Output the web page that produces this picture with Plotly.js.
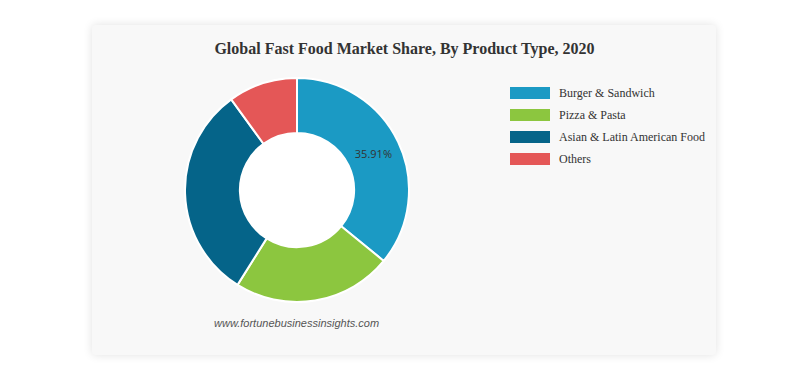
<!DOCTYPE html>
<html>
<head>
<meta charset="utf-8">
<script src="https://cdn.plot.ly/plotly-3.0.1.min.js"></script>
<style>
  html, body { margin: 0; padding: 0; background: #ffffff; width: 812px; height: 372px; overflow: hidden; }
  #card { position: absolute; left: 92px; top: 25px; width: 624px; height: 330px; background: #f8f8f8;
          border-radius: 4px; box-shadow: 0 0 10px rgba(0,0,0,0.12); }
  #chart { position: absolute; left: 0; top: 0; width: 812px; height: 372px; }
</style>
</head>
<body>
<div id="card"></div>
<div id="chart"></div>
<script>
const categories = ["Burger & Sandwich", "Pizza & Pasta", "Asian & Latin American Food", "Others"];
const shares = [35.91, 23.0, 31.1, 9.99];
const sliceLabels = ["35.91%", "", "", ""];
const colors = ["#1b9ac4", "#8cc63f", "#056489", "#e45757"];
const titleText = "Global Fast Food Market Share, By Product Type, 2020";
const sourceText = "www.fortunebusinessinsights.com";

const W = 812, H = 372;
const cx = 297, cy = 190, R = 112, holeFrac = 0.51;

const trace = {
  type: "pie",
  values: shares,
  labels: categories,
  text: sliceLabels,
  textinfo: "text",
  textposition: "inside",
  insidetextorientation: "horizontal",
  textfont: { family: "Open Sans, sans-serif", size: 11, color: "#333333" },
  marker: { colors: colors, line: { color: "#ffffff", width: 2 } },
  hole: holeFrac,
  sort: false,
  direction: "clockwise",
  rotation: 0,
  showlegend: false,
  domain: { x: [(cx - R) / W, (cx + R) / W], y: [(H - cy - R) / H, (H - cy + R) / H] },
  hoverinfo: "label+percent"
};

const shapes = [{
  type: "circle", xref: "paper", yref: "paper", layer: "below",
  x0: (cx - R * holeFrac) / W, x1: (cx + R * holeFrac) / W,
  y0: (H - cy - R * holeFrac) / H, y1: (H - cy + R * holeFrac) / H,
  fillcolor: "#ffffff", line: { width: 0 }
}];
const annotations = [];
const legX = 510, legY0 = 93, legStep = 22, swW = 40, swH = 12;
categories.forEach((c, i) => {
  const y = legY0 + i * legStep;
  shapes.push({
    type: "rect", xref: "paper", yref: "paper",
    x0: legX / W, x1: (legX + swW) / W,
    y0: (H - y - swH / 2) / H, y1: (H - y + swH / 2) / H,
    fillcolor: colors[i], line: { width: 0 }
  });
  annotations.push({
    xref: "paper", yref: "paper", x: (legX + swW + 7) / W, y: (H - y) / H,
    xanchor: "left", yanchor: "middle", showarrow: false, text: c,
    font: { family: "Liberation Serif, Times New Roman, serif", size: 12, color: "#333333" }
  });
});
annotations.push({
  xref: "paper", yref: "paper", x: 296.5 / W, y: (H - 323) / H,
  xanchor: "center", yanchor: "middle", showarrow: false, text: "<i>" + sourceText + "</i>",
  font: { family: "Liberation Sans, Arial, sans-serif", size: 11, color: "#555555" }
});

const layout = {
  width: W, height: H,
  margin: { l: 0, r: 0, t: 0, b: 0 },
  paper_bgcolor: "rgba(0,0,0,0)",
  plot_bgcolor: "rgba(0,0,0,0)",
  title: {
    text: "<b>" + titleText + "</b>",
    x: 404.5 / W, xanchor: "center", xref: "container",
    y: 1 - 48 / H, yanchor: "middle", yref: "container",
    font: { family: "Liberation Serif, Times New Roman, serif", size: 16, color: "#333333" }
  },
  shapes: shapes,
  annotations: annotations,
  showlegend: false
};

Plotly.newPlot("chart", [trace], layout, { displayModeBar: false, staticPlot: true });
</script>
</body>
</html>
